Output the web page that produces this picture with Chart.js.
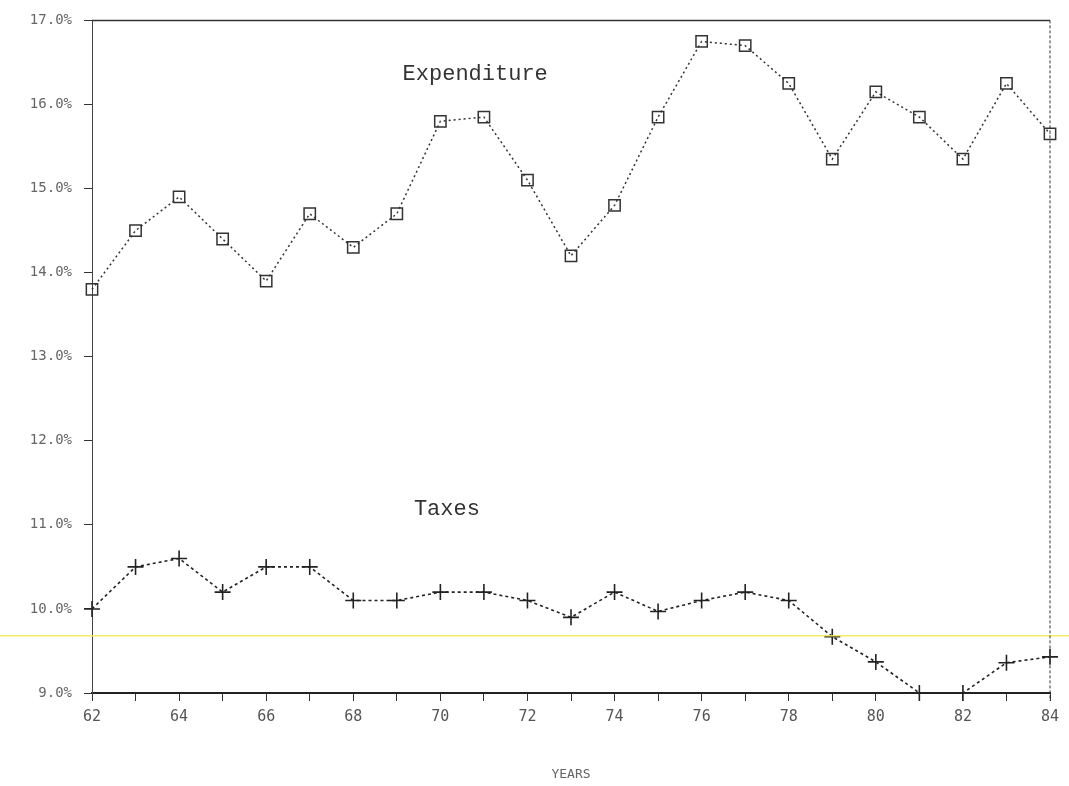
<!DOCTYPE html>
<html>
<head>
<meta charset="utf-8">
<title>Expenditure and Taxes</title>
<script src="https://cdn.jsdelivr.net/npm/chart.js@4/dist/chart.umd.min.js"></script>
<style>
  html, body { margin: 0; padding: 0; background: #fff; }
  #wrap { width: 1069px; height: 786px; position: relative; }
</style>
</head>
<body>
<div id="wrap"><canvas id="chart"></canvas></div>
<script>
// Data (share of GDP, %)
const years = [62, 63, 64, 65, 66, 67, 68, 69, 70, 71, 72, 73, 74, 75, 76, 77, 78, 79, 80, 81, 82, 83, 84];
const expenditure = [13.8, 14.5, 14.9, 14.4, 13.9, 14.7, 14.3, 14.7, 15.8, 15.85, 15.1, 14.2, 14.8, 15.85,
                     16.75, 16.7, 16.25, 15.35, 16.15, 15.85, 15.35, 16.25, 15.65];
const taxes = [10.0, 10.5, 10.6, 10.2, 10.5, 10.5, 10.1, 10.1, 10.2, 10.2, 10.1, 9.9, 10.2, 9.97,
               10.1, 10.2, 10.1, 9.67, 9.37, 9.0, 9.0, 9.36, 9.43];
const seriesNames = ["Expenditure", "Taxes"];
const yMin = 9, yMax = 17;
const xMin = 62, xMax = 84;

const toPoints = vals => vals.map((v, i) => ({ x: years[i], y: v }));

// text labels next to the lines, and the scanner's yellow streak
const annotate = {
    id: "annotate",
    afterDatasetsDraw(chart) {
        const { ctx, scales: { x, y }, chartArea } = chart;
        ctx.save();
        // yellow scan line
        ctx.strokeStyle = "rgba(245, 235, 80, 0.9)";
        ctx.lineWidth = 1.5;
        ctx.beginPath();
        ctx.moveTo(0, y.getPixelForValue(9.68));
        ctx.lineTo(chart.width, y.getPixelForValue(9.68));
        ctx.stroke();
        // frame: solid top, dotted right
        ctx.strokeStyle = "#333";
        ctx.lineWidth = 1.5;
        ctx.beginPath();
        ctx.moveTo(chartArea.left, chartArea.top);
        ctx.lineTo(chartArea.right, chartArea.top);
        ctx.stroke();
        ctx.setLineDash([3, 2]);
        ctx.lineWidth = 1;
        ctx.beginPath();
        ctx.moveTo(chartArea.right, chartArea.top);
        ctx.lineTo(chartArea.right, chartArea.bottom + 8);
        ctx.stroke();
        ctx.setLineDash([]);
        // series names
        ctx.fillStyle = "#333";
        ctx.font = "22px 'Liberation Mono', 'DejaVu Sans Mono', monospace";
        ctx.textAlign = "center";
        ctx.textBaseline = "middle";
        ctx.fillText(seriesNames[0], x.getPixelForValue(70.8), y.getPixelForValue(16.36));
        ctx.fillText(seriesNames[1], x.getPixelForValue(70.15), y.getPixelForValue(11.19));
        ctx.restore();
    }
};

const ctx = document.getElementById("chart").getContext("2d");
new Chart(ctx, {
    type: "line",
    data: {
        datasets: [
            {
                label: seriesNames[0],
                data: toPoints(expenditure),
                borderColor: "#333",
                borderWidth: 1.5,
                borderDash: [2, 3],
                pointStyle: "rect",
                pointRadius: 8,
                pointBorderWidth: 1.5,
                pointBorderColor: "#333",
                pointBackgroundColor: "rgba(0,0,0,0)",
                tension: 0,
                clip: false
            },
            {
                label: seriesNames[1],
                data: toPoints(taxes),
                borderColor: "#222",
                borderWidth: 1.6,
                borderDash: [3, 3],
                pointStyle: "cross",
                pointRadius: 8,
                pointBorderWidth: 1.6,
                pointBorderColor: "#222",
                tension: 0,
                clip: false
            }
        ]
    },
    options: {
        responsive: true,
        maintainAspectRatio: false,
        animation: false,
        layout: { padding: { top: 16, right: 19, left: 0, bottom: 0 } },
        plugins: {
            legend: { display: false },
            tooltip: { enabled: false }
        },
        scales: {
            x: {
                type: "linear",
                min: xMin,
                max: xMax,
                ticks: {
                    stepSize: 1,
                    color: "#555",
                    font: { family: "'DejaVu Sans Mono', monospace", size: 15 },
                    padding: 7,
                    maxRotation: 0,
                    autoSkip: false,
                    callback: v => (v % 2 === 0 ? String(v) : "")
                },
                grid: { display: true, drawOnChartArea: false, drawTicks: true, tickLength: 8, color: "#333" },
                border: { display: true, color: "#222", width: 2 },
                title: {
                    display: true,
                    text: "YEARS",
                    color: "#666",
                    font: { family: "'DejaVu Sans Mono', monospace", size: 13 },
                    padding: { top: 26 }
                },
                afterFit: s => { s.height = 93; }
            },
            y: {
                min: yMin,
                max: yMax,
                ticks: {
                    stepSize: 1,
                    color: "#666",
                    font: { family: "'DejaVu Sans Mono', monospace", size: 14 },
                    padding: 12,
                    callback: v => v.toFixed(1) + "%"
                },
                grid: { display: true, drawOnChartArea: false, drawTicks: true, tickLength: 8, color: "#333" },
                border: { display: true, color: "#444", width: 1, dash: [3, 2] },
                afterFit: s => { s.width = 92; }
            }
        }
    },
    plugins: [annotate]
});
</script>
</body>
</html>
